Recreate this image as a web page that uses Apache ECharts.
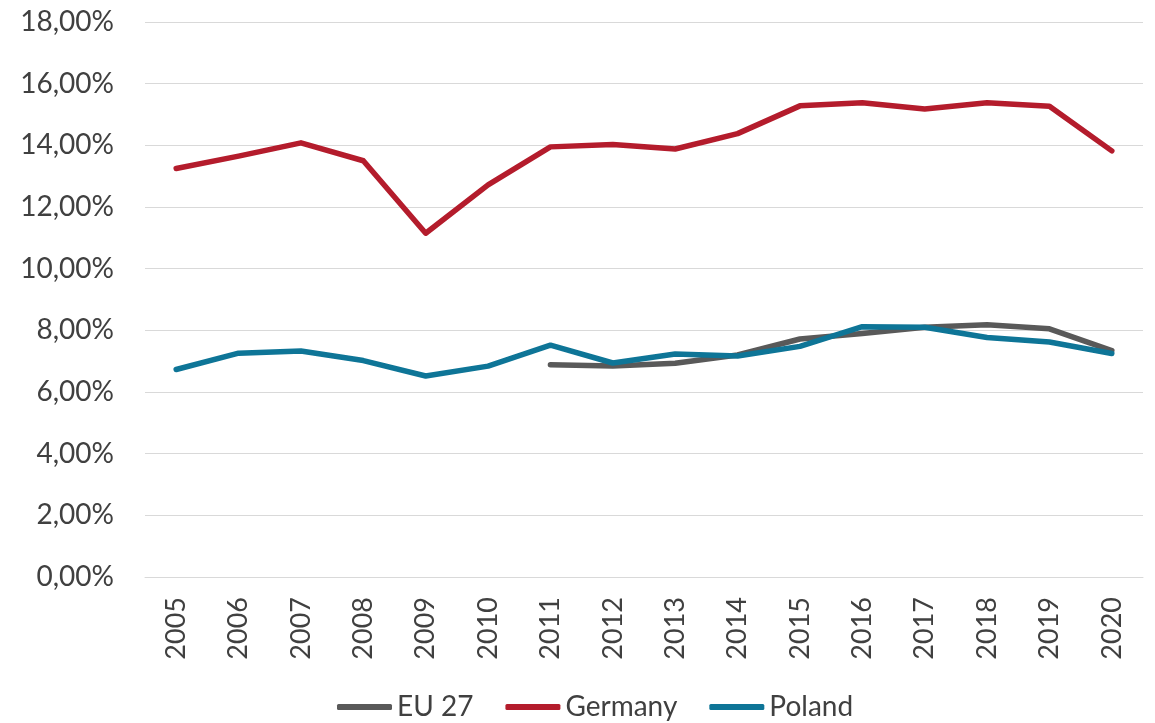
<!DOCTYPE html>
<html>
<head>
<meta charset="utf-8">
<script src="https://cdn.jsdelivr.net/npm/echarts@6/dist/echarts.min.js"></script>
<style>
  html, body { margin: 0; padding: 0; background: #ffffff; }
  #chart { width: 1155px; height: 723px; }
</style>
</head>
<body>
<div id="chart"></div>
<script>
// Years on the category axis
const years = ['2005','2006','2007','2008','2009','2010','2011','2012','2013','2014','2015','2016','2017','2018','2019','2020'];

// Shares in percent
const eu27    = [null, null, null, null, null, null, 6.88, 6.84, 6.93, 7.20, 7.72, 7.90, 8.10, 8.18, 8.05, 7.34];
const germany = [13.25, 13.65, 14.08, 13.50, 11.15, 12.72, 13.95, 14.03, 13.88, 14.38, 15.28, 15.38, 15.18, 15.38, 15.27, 13.82];
const poland  = [6.73, 7.26, 7.33, 7.02, 6.52, 6.84, 7.52, 6.94, 7.23, 7.17, 7.48, 8.12, 8.10, 7.77, 7.62, 7.25];

const seriesNames = ['EU 27', 'Germany', 'Poland'];
const seriesColors = ['#595959', '#B41C2C', '#0E7597'];

const textColor = '#404040';
const fontFamily = 'Lato, "Open Sans", sans-serif';

const chart = echarts.init(document.getElementById('chart'));

const lineSeries = [eu27, germany, poland].map((data, i) => ({
  name: seriesNames[i],
  type: 'line',
  data: data,
  symbol: 'none',
  connectNulls: false,
  lineStyle: { width: 5.5, color: seriesColors[i], cap: 'round', join: 'round' },
  itemStyle: { color: seriesColors[i] }
}));

chart.setOption({
  animation: false,
  backgroundColor: '#ffffff',
  grid: { left: 145, right: 12, top: 22, bottom: 146, containLabel: false },
  legend: {
    bottom: -3,
    left: 332,
    icon: 'roundRect',
    itemWidth: 55,
    itemHeight: 6,
    itemGap: 32,
    textStyle: { color: textColor, fontSize: 28, fontFamily: fontFamily },
    data: seriesNames
  },
  xAxis: {
    type: 'category',
    data: years,
    boundaryGap: true,
    axisLine: { show: true, lineStyle: { color: '#D9D9D9', width: 1 } },
    axisTick: { show: false },
    axisLabel: {
      rotate: 90,
      color: textColor,
      fontSize: 27,
      fontFamily: fontFamily,
      margin: 20,
      interval: 0
    }
  },
  yAxis: {
    type: 'value',
    min: 0,
    max: 18,
    interval: 2,
    axisLine: { show: false },
    axisTick: { show: false },
    splitLine: { lineStyle: { color: '#D9D9D9', width: 1 } },
    axisLabel: {
      color: textColor,
      fontSize: 28,
      fontFamily: fontFamily,
      margin: 31,
      formatter: v => v.toFixed(2).replace('.', ',') + '%'
    }
  },
  series: lineSeries
});
</script>
</body>
</html>
